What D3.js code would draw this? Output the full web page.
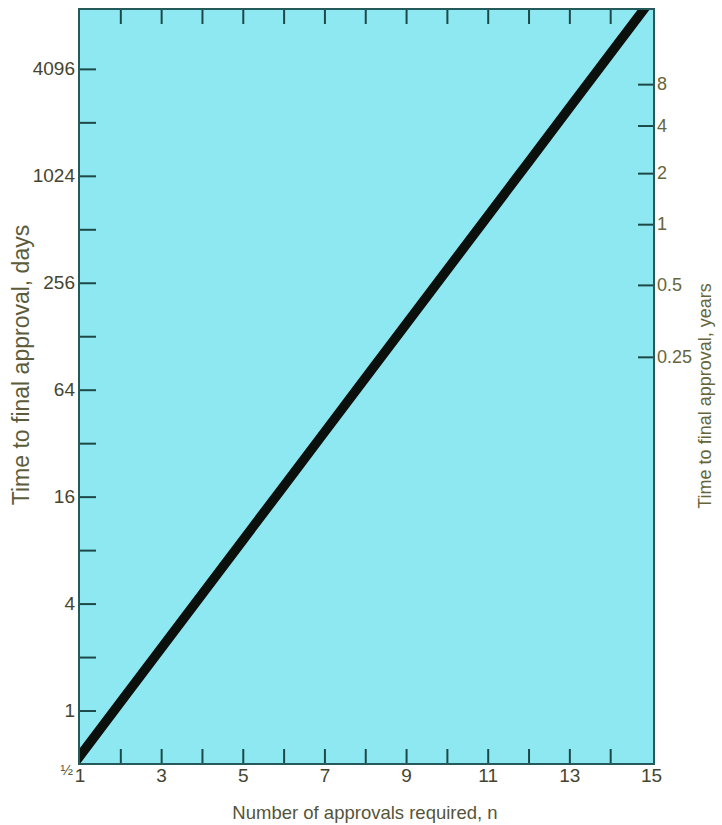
<!DOCTYPE html>
<html>
<head>
<meta charset="utf-8">
<script src="https://cdn.jsdelivr.net/npm/d3@7"></script>
<style>
  body { margin: 0; background: #fff; }
  svg { display: block; }
</style>
</head>
<body>
<svg></svg>
<script>
// number of approvals n and time to final approval (days)
const approvals = [1, 2, 3, 4, 5, 6, 7, 8, 9, 10, 11, 12, 13, 14, 15];
const days = [0.551, 1.11, 2.237, 4.507, 9.08, 18.3, 36.87, 74.28, 149.7, 301.6, 607.6, 1224, 2467, 4970, 10013];

// left axis: a tick on every doubling, labels on every second one
const dayTicks = [0.5, 1, 2, 4, 8, 16, 32, 64, 128, 256, 512, 1024, 2048, 4096];
const dayLabels = [0.5, 1, 4, 16, 64, 256, 1024, 4096];

// right axis: years, placed where the original puts them on the day scale
const yearLabels = ['8', '4', '2', '1', '0.5', '0.25'];
const yearTickDays = [3360, 1965, 1060, 547, 249, 98];

const xTicks = [2, 3, 4, 5, 6, 7, 8, 9, 10, 11, 12, 13, 14];
const xLabels = [1, 3, 5, 7, 9, 11, 13, 15];

var svgWidth = 722;
var svgHeight = 825;
// note: "top" is taken by window.top, so use plot* names
var plotLeft = 79, plotRight = 654, plotTop = 9, plotBottom = 764;

var bg = '#8ee8f1';
var frameColor = '#245a5a';
var tickColor = '#1d4848';

var svg = d3.select('svg')
            .attr('width', svgWidth)
            .attr('height', svgHeight)
            .style('font-family', '"Liberation Sans", Arial, sans-serif');

var xScale = d3.scaleLinear()
               .domain([1, 15])
               .range([79.5, 651]);

var yScale = d3.scaleLog()
               .base(2)
               .domain([0.5, 8900])
               .range([plotBottom, plotTop]);

svg.append('rect')
   .attr('x', plotLeft)
   .attr('y', plotTop)
   .attr('width', plotRight - plotLeft)
   .attr('height', plotBottom - plotTop)
   .attr('fill', bg);

svg.append('clipPath')
   .attr('id', 'plot')
   .append('rect')
   .attr('x', plotLeft)
   .attr('y', plotTop)
   .attr('width', plotRight - plotLeft)
   .attr('height', plotBottom - plotTop);

// the line
var line = d3.line()
             .x((d, i) => xScale(approvals[i]))
             .y(d => yScale(d));

svg.append('path')
   .datum(days)
   .attr('d', line)
   .attr('clip-path', 'url(#plot)')
   .attr('fill', 'none')
   .attr('stroke', '#0b100d')
   .attr('stroke-width', 9.5)
   .attr('stroke-linecap', 'square');

function styleAxis(g) {
  g.select('.domain').remove();
  g.selectAll('.tick line').attr('stroke', tickColor).attr('stroke-width', 2);
  g.attr('font-family', null).attr('font-size', null);
}

// left axis
var leftAxis = svg.append('g')
   .attr('transform', 'translate(' + plotLeft + ',0)')
   .call(d3.axisLeft(yScale)
           .tickValues(dayTicks)
           .tickSizeInner(-17)
           .tickSizeOuter(0)
           .tickPadding(4)
           .tickFormat(d => dayLabels.includes(d) ? (d === 0.5 ? '\u00BD' : d) : ''))
   .call(styleAxis);

leftAxis.selectAll('text')
   .attr('fill', '#45452f')
   .style('font-size', '19px');

leftAxis.selectAll('.tick')
   .filter(d => d === 0.5)
   .call(t => {
     t.select('line').remove();
     t.select('text').attr('x', -6).attr('dy', '0.7em').style('font-size', '15px').attr('fill', '#5a5a3c');
   });

// right axis (years)
var rightAxis = svg.append('g')
   .attr('transform', 'translate(' + plotRight + ',0)')
   .call(d3.axisRight(yScale)
           .tickValues(yearTickDays)
           .tickSizeInner(-16)
           .tickSizeOuter(0)
           .tickPadding(3)
           .tickFormat((d, i) => yearLabels[i]))
   .call(styleAxis);

rightAxis.selectAll('text')
   .attr('fill', '#66663a')
   .style('font-size', '18px');

// bottom ticks and labels
svg.append('g')
   .attr('transform', 'translate(0,' + plotBottom + ')')
   .call(d3.axisBottom(xScale)
           .tickValues(xTicks)
           .tickSizeInner(-15)
           .tickSizeOuter(0)
           .tickFormat(''))
   .call(styleAxis);

var bottomLabels = svg.append('g')
   .attr('transform', 'translate(0,' + plotBottom + ')')
   .call(d3.axisBottom(xScale)
           .tickValues(xLabels)
           .tickSize(0)
           .tickPadding(5))
   .call(styleAxis);

bottomLabels.selectAll('.tick line').remove();
bottomLabels.selectAll('text')
   .attr('fill', '#45452f')
   .style('font-size', '19px');

// top ticks
svg.append('g')
   .attr('transform', 'translate(0,' + plotTop + ')')
   .call(d3.axisTop(xScale)
           .tickValues(xTicks)
           .tickSizeInner(-15)
           .tickSizeOuter(0)
           .tickFormat(''))
   .call(styleAxis);

// frame
svg.append('rect')
   .attr('x', plotLeft)
   .attr('y', plotTop)
   .attr('width', plotRight - plotLeft)
   .attr('height', plotBottom - plotTop)
   .attr('fill', 'none')
   .attr('stroke', frameColor)
   .attr('stroke-width', 2);

// axis titles
svg.append('text')
   .attr('x', 365)
   .attr('y', 819)
   .attr('text-anchor', 'middle')
   .attr('fill', '#55553a')
   .style('font-size', '18.5px')
   .text('Number of approvals required, n');

svg.append('text')
   .attr('transform', 'translate(29,365) rotate(-90)')
   .attr('text-anchor', 'middle')
   .attr('fill', '#5c5c3c')
   .style('font-size', '23px')
   .text('Time to final approval, days');

svg.append('text')
   .attr('transform', 'translate(711,396) rotate(-90)')
   .attr('text-anchor', 'middle')
   .attr('fill', '#66663a')
   .style('font-size', '18px')
   .text('Time to final approval, years');
</script>
</body>
</html>
